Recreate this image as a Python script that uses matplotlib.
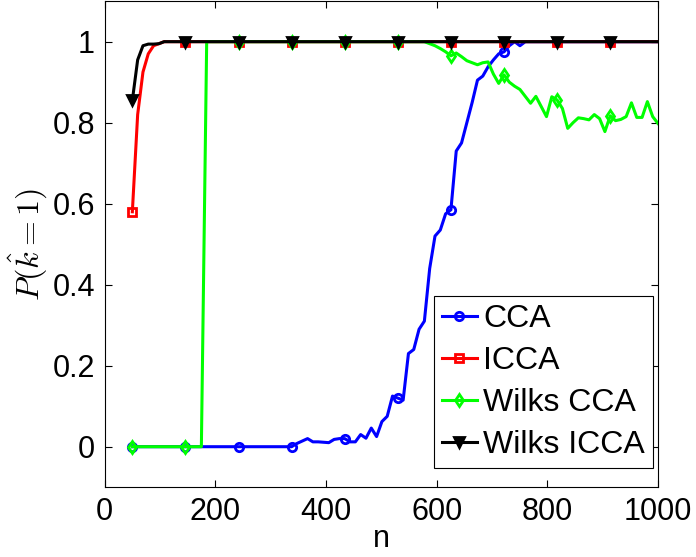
import numpy as np
import matplotlib; matplotlib.use("Agg")
import matplotlib.pyplot as plt
plt.rcParams.update({"font.family":"Liberation Sans","mathtext.fontset":"cm","axes.linewidth":0.8})

# sample sizes (101 grid points -> linspace of 100 between 50 and 1000)
n = np.linspace(50, 1000, 100)

cca = [0.0]*31 + [0.008, 0.014, 0.02, 0.012, 0.012, 0.011, 0.01, 0.018, 0.02, 0.02,
                  0.012, 0.012, 0.03, 0.021, 0.046, 0.025, 0.062, 0.075, 0.125, 0.12,
                  0.115, 0.23, 0.24, 0.29, 0.31, 0.44, 0.52, 0.535, 0.575, 0.585,
                  0.73, 0.75, 0.8, 0.85, 0.905, 0.915, 0.938, 0.955, 0.97, 0.975,
                  0.99, 1.0, 0.99, 1.0] + [1.0]*25
icca = [0.58, 0.82, 0.925, 0.97, 0.99, 0.995] + [1.0]*94
wilks_cca = [0.0]*14 + [1.0]*42 + [0.995, 0.99, 0.983, 0.975, 0.965, 0.972, 0.963, 0.953, 0.948, 0.943,
                                   0.948, 0.95, 0.92, 0.897, 0.918, 0.9, 0.89, 0.882, 0.865, 0.848,
                                   0.865, 0.84, 0.815, 0.864, 0.856, 0.835, 0.786, 0.80, 0.812, 0.81,
                                   0.807, 0.82, 0.81, 0.778, 0.817, 0.805, 0.808, 0.815, 0.849, 0.813,
                                   0.813, 0.852, 0.815, 0.798]
wilks_icca = [0.855, 0.955, 0.99, 0.994, 0.994, 0.995] + [1.0]*94

labels = ["CCA", "ICCA", "Wilks CCA", "Wilks ICCA"]
series = [cca, icca, wilks_cca, wilks_icca]
colors = ["#0000ff", "#ff0000", "#00ff00", "#000000"]
markers = ["o", "s", "d", "v"]

fig = plt.figure(figsize=(6.96, 5.57), dpi=100)
ax = fig.add_axes([0.1504, 0.1253, 0.795, 0.8726])
for y, lab, c, m in zip(series, labels, colors, markers):
    ax.plot(n, y, color=c, lw=2.2, marker=m, markevery=10, ms=7 if m == "v" else 6, mew=2,
            mfc="none" if m != "v" else c, mec=c, label=lab)

ax.set_xlim(0, 1000); ax.set_ylim(-0.1, 1.1)
ax.set_xticks([0, 200, 400, 600, 800, 1000])
ax.set_yticks([0, 0.2, 0.4, 0.6, 0.8, 1])
ax.set_yticklabels(["0", "0.2", "0.4", "0.6", "0.8", "1"])
ax.tick_params(direction="in", length=5, width=0.8, top=True, right=True, labelsize=22, pad=7)
ax.set_xlabel("n", fontsize=22, labelpad=-2)
ax.set_ylabel(r"$P(\hat{k}=1)$", fontsize=23, labelpad=2)
leg = ax.legend(loc="lower right", bbox_to_anchor=(0.991, 0.039), borderaxespad=0,
                fontsize=23, fancybox=False, edgecolor="k", framealpha=1,
                handlelength=1.1, handletextpad=0.2, labelspacing=0.38, borderpad=0.25)
leg.get_frame().set_linewidth(0.8)
fig.savefig("out.png", dpi=100)
